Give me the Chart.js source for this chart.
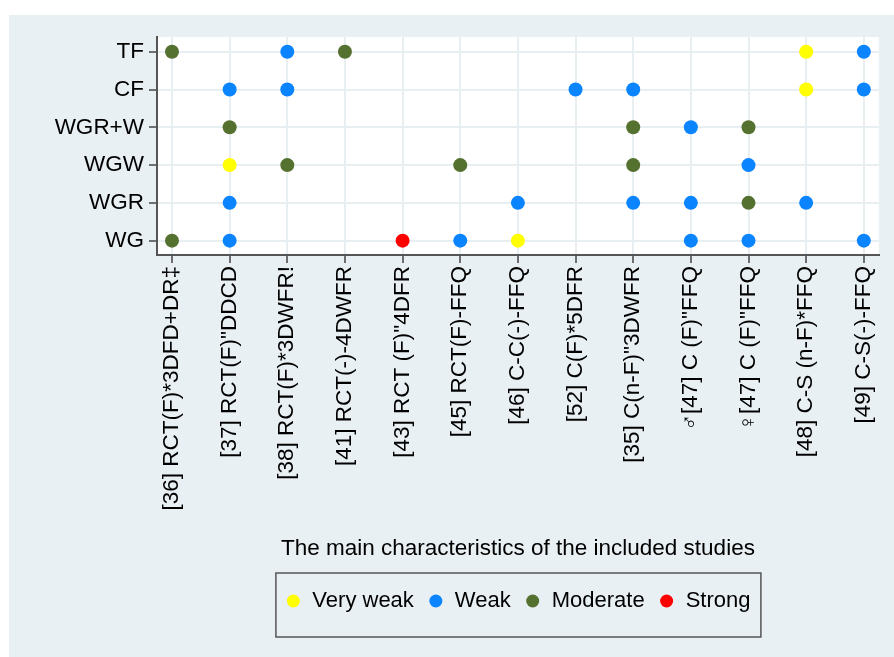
<!DOCTYPE html>
<html lang="en">
  <head>
    <meta charset="UTF-8" />
    <title>Study quality by outcome</title>
    <script src="https://cdn.jsdelivr.net/npm/chart.js"></script>
    <style>
      html,
      body {
        margin: 0;
        padding: 0;
        background: #ffffff;
      }
      #wrap {
        width: 894px;
        height: 657px;
      }
    </style>
  </head>
  <body>
    <div id="wrap"><canvas id="qualityChart"></canvas></div>

    <script>
      // Studies along the x axis
      var studies = [
        "[36] RCT(F)*3DFD+DR\u2021",
        '[37] RCT(F)"DDCD',
        "[38] RCT(F)*3DWFR!",
        "[41] RCT(-)-4DWFR",
        '[43] RCT (F)"4DFR',
        "[45] RCT(F)-FFQ",
        "[46] C-C(-)-FFQ",
        "[52] C(F)*5DFR",
        '[35] C(n-F)"3DWFR',
        '\u2642[47] C (F)"FFQ',
        '\u2640[47] C (F)"FFQ',
        "[48] C-S (n-F)*FFQ",
        "[49] C-S(-)-FFQ",
      ];

      // Outcomes along the y axis, bottom to top
      var outcomes = ["WG", "WGR", "WGW", "WGR+W", "CF", "TF"];

      // [study index, outcome index] for each quality rating
      var veryWeak = [
        [11, 5],
        [11, 4],
        [1, 2],
        [6, 0],
      ];
      var weak = [
        [2, 5], [12, 5],
        [1, 4], [2, 4], [7, 4], [8, 4], [12, 4],
        [9, 3],
        [10, 2],
        [1, 1], [6, 1], [8, 1], [9, 1], [11, 1],
        [1, 0], [5, 0], [9, 0], [10, 0], [12, 0],
      ];
      var moderate = [
        [0, 5], [3, 5],
        [1, 3], [8, 3], [10, 3],
        [2, 2], [5, 2], [8, 2],
        [10, 1],
        [0, 0],
      ];
      var strong = [[4, 0]];

      function toPoints(list) {
        return list.map(function (p) {
          return { x: p[0], y: p[1] };
        });
      }

      var bgPlugin = {
        id: "bg",
        beforeDraw: function (chart) {
          var ctx = chart.ctx;
          var a = chart.chartArea;
          ctx.save();
          ctx.fillStyle = "#ffffff";
          ctx.fillRect(0, 0, chart.width, chart.height);
          ctx.fillStyle = "#e9f0f3";
          ctx.fillRect(9, 15, chart.width - 9, chart.height - 15);
          ctx.fillStyle = "#ffffff";
          ctx.fillRect(a.left, a.top, a.right - a.left, a.bottom - a.top);
          ctx.restore();
        },
        afterDraw: function (chart) {
          // frame around the legend row
          var boxes = chart.legend.legendHitBoxes;
          if (!boxes || !boxes.length) return;
          var first = boxes[0];
          var last = boxes[boxes.length - 1];
          var cx = (first.left + last.left + last.width) / 2;
          var cy = first.top + first.height / 2;
          var ctx = chart.ctx;
          ctx.save();
          ctx.strokeStyle = "#555555";
          ctx.lineWidth = 1.5;
          ctx.strokeRect(cx - 242, cy - 28, 485, 64);
          ctx.restore();
        },
      };

      var fontFam = "'Liberation Sans', 'DejaVu Sans', Arial, sans-serif";

      var ctx = document.getElementById("qualityChart").getContext("2d");
      var qualityChart = new Chart(ctx, {
        type: "scatter",
        data: {
          datasets: [
            { label: "Very weak", data: toPoints(veryWeak), backgroundColor: "#ffff00" },
            { label: "Weak", data: toPoints(weak), backgroundColor: "#0a84ff" },
            { label: "Moderate", data: toPoints(moderate), backgroundColor: "#55712f" },
            { label: "Strong", data: toPoints(strong), backgroundColor: "#ff0000" },
          ],
        },
        options: {
          responsive: true,
          maintainAspectRatio: false,
          animation: false,
          layout: {
            padding: { top: 37, left: 0, right: 9, bottom: 35 },
          },
          elements: {
            point: { radius: 7, hoverRadius: 7, borderWidth: 0 },
          },
          scales: {
            x: {
              type: "linear",
              min: -0.26,
              max: 12.26,
              afterBuildTicks: function (scale) {
                scale.ticks = studies.map(function (s, i) {
                  return { value: i };
                });
              },
              afterFit: function (scale) {
                scale.height = 321;
              },
              ticks: {
                autoSkip: false,
                minRotation: 90,
                maxRotation: 90,
                padding: 3,
                color: "#000000",
                font: { family: fontFam, size: 22.5 },
                callback: function (v) {
                  return studies[v];
                },
              },
              grid: {
                color: "#e8eff2",
                lineWidth: 2,
                tickColor: "#444444",
                tickWidth: 1.5,
                tickLength: 8,
              },
              border: { color: "#555555", width: 2 },
              title: {
                display: true,
                text: "The main characteristics of the included studies",
                color: "#000000",
                font: { family: fontFam, size: 22.5 },
                padding: { top: 0, bottom: 14 },
              },
            },
            y: {
              type: "linear",
              min: -0.38,
              max: 5.39,
              afterBuildTicks: function (scale) {
                scale.ticks = outcomes.map(function (s, i) {
                  return { value: i };
                });
              },
              afterFit: function (scale) {
                scale.width = 157;
              },
              ticks: {
                padding: 5,
                color: "#000000",
                font: { family: fontFam, size: 22.5 },
                callback: function (v) {
                  return outcomes[v];
                },
              },
              grid: {
                color: "#e8eff2",
                lineWidth: 2,
                tickColor: "#444444",
                tickWidth: 1.5,
                tickLength: 8,
              },
              border: { color: "#555555", width: 2 },
            },
          },
          plugins: {
            tooltip: { enabled: false },
            legend: {
              position: "bottom",
              fullSize: false,
              labels: {
                usePointStyle: true,
                pointStyle: "circle",
                boxWidth: 16,
                boxHeight: 9.2,
                padding: 14,
                color: "#000000",
                font: { family: fontFam, size: 22 },
              },
            },
          },
        },
        plugins: [bgPlugin],
      });
    </script>
  </body>
</html>
